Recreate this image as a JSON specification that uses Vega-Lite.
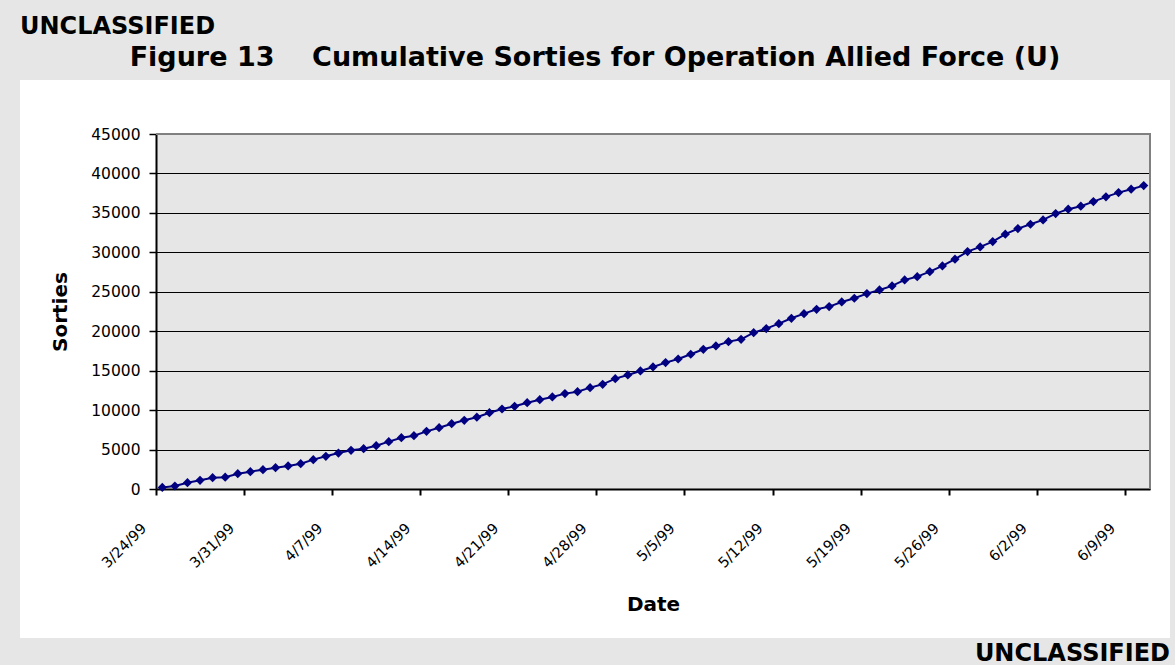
{
  "$schema": "https://vega.github.io/schema/vega-lite/v6.json",
  "background": "#e6e6e6",
  "padding": {"left": 20, "top": 15, "right": 5, "bottom": 0},
  "title": {
    "text": "UNCLASSIFIED",
    "anchor": "start",
    "baseline": "top",
    "font": "DejaVu Sans",
    "fontSize": 24,
    "fontWeight": "bold",
    "color": "black",
    "offset": 5
  },
  "vconcat": [
    {
      "title": {
        "text": "UNCLASSIFIED",
        "orient": "bottom",
        "anchor": "end",
        "baseline": "top",
        "font": "DejaVu Sans",
        "fontSize": 24,
        "fontWeight": "bold",
        "color": "black",
        "offset": 4
      },
      "vconcat": [
        {
          "title": {
            "text": "Figure 13\u00a0\u00a0\u00a0\u00a0Cumulative Sorties for Operation Allied Force (U)",
            "anchor": "middle",
            "baseline": "top",
            "font": "DejaVu Sans",
            "fontSize": 27,
            "fontWeight": "bold",
            "color": "black",
            "offset": 8
          },
          "width": 1150,
          "height": 558,
          "view": {"fill": "white", "stroke": null},
          "data": {
            "values": [
              {"date": "1999-03-24T12:00:00", "sorties": 200},
              {"date": "1999-03-25T12:00:00", "sorties": 380},
              {"date": "1999-03-26T12:00:00", "sorties": 800},
              {"date": "1999-03-27T12:00:00", "sorties": 1100},
              {"date": "1999-03-28T12:00:00", "sorties": 1430},
              {"date": "1999-03-29T12:00:00", "sorties": 1500},
              {"date": "1999-03-30T12:00:00", "sorties": 1940},
              {"date": "1999-03-31T12:00:00", "sorties": 2200},
              {"date": "1999-04-01T12:00:00", "sorties": 2450},
              {"date": "1999-04-02T12:00:00", "sorties": 2700},
              {"date": "1999-04-03T12:00:00", "sorties": 2920},
              {"date": "1999-04-04T12:00:00", "sorties": 3210},
              {"date": "1999-04-05T12:00:00", "sorties": 3720},
              {"date": "1999-04-06T12:00:00", "sorties": 4140},
              {"date": "1999-04-07T12:00:00", "sorties": 4560},
              {"date": "1999-04-08T12:00:00", "sorties": 4900},
              {"date": "1999-04-09T12:00:00", "sorties": 5110},
              {"date": "1999-04-10T12:00:00", "sorties": 5490},
              {"date": "1999-04-11T12:00:00", "sorties": 6000},
              {"date": "1999-04-12T12:00:00", "sorties": 6500},
              {"date": "1999-04-13T12:00:00", "sorties": 6760},
              {"date": "1999-04-14T12:00:00", "sorties": 7310},
              {"date": "1999-04-15T12:00:00", "sorties": 7770},
              {"date": "1999-04-16T12:00:00", "sorties": 8280},
              {"date": "1999-04-17T12:00:00", "sorties": 8710},
              {"date": "1999-04-18T12:00:00", "sorties": 9100},
              {"date": "1999-04-19T12:00:00", "sorties": 9670},
              {"date": "1999-04-20T12:00:00", "sorties": 10140},
              {"date": "1999-04-21T12:00:00", "sorties": 10480},
              {"date": "1999-04-22T12:00:00", "sorties": 10940},
              {"date": "1999-04-23T12:00:00", "sorties": 11320},
              {"date": "1999-04-24T12:00:00", "sorties": 11670},
              {"date": "1999-04-25T12:00:00", "sorties": 12090},
              {"date": "1999-04-26T12:00:00", "sorties": 12340},
              {"date": "1999-04-27T12:00:00", "sorties": 12850},
              {"date": "1999-04-28T12:00:00", "sorties": 13270},
              {"date": "1999-04-29T12:00:00", "sorties": 13990},
              {"date": "1999-04-30T12:00:00", "sorties": 14460},
              {"date": "1999-05-01T12:00:00", "sorties": 14960},
              {"date": "1999-05-02T12:00:00", "sorties": 15470},
              {"date": "1999-05-03T12:00:00", "sorties": 16020},
              {"date": "1999-05-04T12:00:00", "sorties": 16480},
              {"date": "1999-05-05T12:00:00", "sorties": 17080},
              {"date": "1999-05-06T12:00:00", "sorties": 17710},
              {"date": "1999-05-07T12:00:00", "sorties": 18130},
              {"date": "1999-05-08T12:00:00", "sorties": 18680},
              {"date": "1999-05-09T12:00:00", "sorties": 18980},
              {"date": "1999-05-10T12:00:00", "sorties": 19820},
              {"date": "1999-05-11T12:00:00", "sorties": 20330},
              {"date": "1999-05-12T12:00:00", "sorties": 20960},
              {"date": "1999-05-13T12:00:00", "sorties": 21640},
              {"date": "1999-05-14T12:00:00", "sorties": 22230},
              {"date": "1999-05-15T12:00:00", "sorties": 22780},
              {"date": "1999-05-16T12:00:00", "sorties": 23120},
              {"date": "1999-05-17T12:00:00", "sorties": 23710},
              {"date": "1999-05-18T12:00:00", "sorties": 24180},
              {"date": "1999-05-19T12:00:00", "sorties": 24770},
              {"date": "1999-05-20T12:00:00", "sorties": 25230},
              {"date": "1999-05-21T12:00:00", "sorties": 25740},
              {"date": "1999-05-22T12:00:00", "sorties": 26500},
              {"date": "1999-05-23T12:00:00", "sorties": 26920},
              {"date": "1999-05-24T12:00:00", "sorties": 27550},
              {"date": "1999-05-25T12:00:00", "sorties": 28280},
              {"date": "1999-05-26T12:00:00", "sorties": 29130},
              {"date": "1999-05-27T12:00:00", "sorties": 30090},
              {"date": "1999-05-28T12:00:00", "sorties": 30690},
              {"date": "1999-05-29T12:00:00", "sorties": 31360},
              {"date": "1999-05-30T12:00:00", "sorties": 32300},
              {"date": "1999-05-31T12:00:00", "sorties": 33010},
              {"date": "1999-06-01T12:00:00", "sorties": 33560},
              {"date": "1999-06-02T12:00:00", "sorties": 34110},
              {"date": "1999-06-03T12:00:00", "sorties": 34910},
              {"date": "1999-06-04T12:00:00", "sorties": 35470},
              {"date": "1999-06-05T12:00:00", "sorties": 35850},
              {"date": "1999-06-06T12:00:00", "sorties": 36430},
              {"date": "1999-06-07T12:00:00", "sorties": 37030},
              {"date": "1999-06-08T12:00:00", "sorties": 37570},
              {"date": "1999-06-09T12:00:00", "sorties": 38000},
              {"date": "1999-06-10T12:00:00", "sorties": 38460}
            ]
          },
          "layer": [
            {
              "data": {"values": [{}]},
              "mark": {
                "type": "rect",
                "fill": "black",
                "fillOpacity": 0.098,
                "stroke": "#808080",
                "strokeWidth": 2,
                "strokeDash": [1349, 1349]
              },
              "encoding": {
                "x": {"datum": {"year": 1999, "month": 3, "date": 24}, "type": "temporal"},
                "x2": {"datum": {"year": 1999, "month": 6, "date": 11}},
                "y": {"datum": 45000, "type": "quantitative"},
                "y2": {"datum": 0}
              }
            },
            {
              "mark": {
                "type": "line",
                "color": "#000080",
                "strokeWidth": 2,
                "point": {"shape": "diamond", "size": 85, "filled": true, "color": "#000080"}
              },
              "encoding": {
                "x": {
                  "field": "date",
                  "type": "temporal",
                  "scale": {
                    "domain": [
                      {"year": 1999, "month": 3, "date": 24},
                      {"year": 1999, "month": 6, "date": 11}
                    ],
                    "range": [136, 1130]
                  },
                  "axis": {
                    "title": "Date",
                    "values": [
                      {"year": 1999, "month": 3, "date": 24},
                      {"year": 1999, "month": 3, "date": 31},
                      {"year": 1999, "month": 4, "date": 7},
                      {"year": 1999, "month": 4, "date": 14},
                      {"year": 1999, "month": 4, "date": 21},
                      {"year": 1999, "month": 4, "date": 28},
                      {"year": 1999, "month": 5, "date": 5},
                      {"year": 1999, "month": 5, "date": 12},
                      {"year": 1999, "month": 5, "date": 19},
                      {"year": 1999, "month": 5, "date": 26},
                      {"year": 1999, "month": 6, "date": 2},
                      {"year": 1999, "month": 6, "date": 9}
                    ],
                    "format": "%-m/%-d/%y",
                    "offset": -149,
                    "grid": false,
                    "labelAngle": -45,
                    "labelAlign": "right",
                    "labelBaseline": "middle",
                    "labelFontSize": 14.5,
                    "labelPadding": 31,
                    "labelOffset": -12,
                    "labelFlush": false,
                    "labelOverlap": false,
                    "tickSize": 6,
                    "tickWidth": 2,
                    "domainWidth": 2,
                    "titleFontSize": 20,
                    "titlePadding": 24
                  }
                },
                "y": {
                  "field": "sorties",
                  "type": "quantitative",
                  "scale": {"domain": [0, 45000], "range": [409, 54]},
                  "axis": {
                    "title": "Sorties",
                    "values": [0, 5000, 10000, 15000, 20000, 25000, 30000, 35000, 40000, 45000],
                    "format": "d",
                    "offset": -136,
                    "grid": true,
                    "gridColor": "black",
                    "gridWidth": 1,
                    "gridOpacity": 1,
                    "labelFontSize": 15.5,
                    "labelPadding": 9,
                    "labelFlush": false,
                    "tickSize": 7,
                    "tickWidth": 1.5,
                    "domainWidth": 2,
                    "titleFontSize": 20,
                    "titlePadding": 20
                  }
                }
              }
            }
          ]
        }
      ]
    }
  ],
  "config": {
    "font": "DejaVu Sans",
    "axis": {
      "labelFont": "DejaVu Sans",
      "labelColor": "black",
      "titleFont": "DejaVu Sans",
      "titleFontWeight": "bold",
      "titleColor": "black",
      "domainColor": "black",
      "tickColor": "black"
    }
  }
}
